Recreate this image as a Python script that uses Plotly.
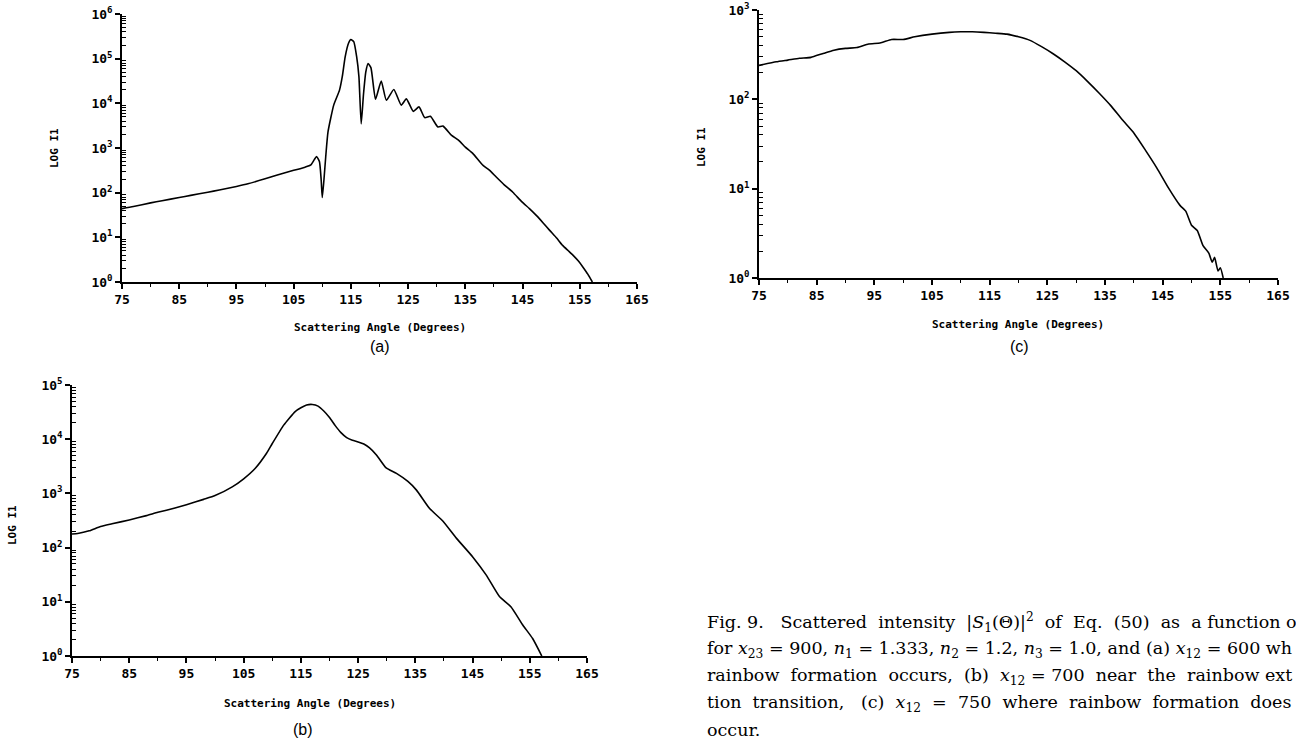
import plotly.graph_objects as go

# ---------------- data ----------------
angle_a = [75, 77, 80, 82, 85, 87, 90, 92, 95, 97, 100, 102, 105, 107, 108, 108.6, 109, 109.5,
           109.8, 110, 110.3, 110.6, 111, 112, 113, 113.5, 114, 114.6, 115, 115.5, 116, 116.4,
           116.8, 117.2, 117.6, 118, 118.5, 119.3, 120.3, 121.2, 122.5, 123.8, 124.7, 125.9,
           126.9, 127.9, 128.9, 130.2, 131.1, 132.6, 133.8, 135, 136.3, 138.1, 139.2, 140.4,
           141.8, 143.3, 144.9, 146.2, 147.4, 148.6, 149.7, 151, 152, 153, 153.8, 154.8, 155.5,
           156.4, 157.2]
intensity_a = [44, 49, 59, 66, 78, 87, 102, 115, 138, 158, 204, 245, 316, 372, 417, 550, 646, 500,
               200, 78, 200, 630, 2290, 9120, 19500, 40000, 110000, 224000, 269000, 240000, 112000, 40000,
               3470, 15800, 50000, 77600, 63000, 12300, 31600, 11700, 20400, 9120, 12600, 6610,
               8320, 4790, 5130, 2950, 3090, 1910, 1500, 1050, 760, 407, 320, 224,
               150, 102, 62, 44, 31, 21, 14.5, 9.5, 6.6, 5.0, 4.0, 2.9, 2.2,
               1.5, 1.0]

angle_b = [75, 76, 78, 80, 82, 85, 88, 90, 93, 95, 98, 100, 103, 105, 107, 109, 110, 112, 114,
           115, 116, 117, 118, 119, 120, 121, 122, 123, 124, 125, 126, 127, 128.2, 129.9, 131.7,
           133.7, 135.2, 137.5, 139.8, 142.2, 145.1, 147.4, 149.7, 151.7, 153.8, 155.5, 157.1]
intensity_b = [178, 182, 204, 245, 275, 324, 389, 447, 537, 617, 776, 912, 1320, 1860, 2880, 5500,
               8320, 18200, 32400, 38000, 42700, 43700, 40700, 33100, 25100, 17800, 13200, 10700,
               9550, 8900, 8130, 6920, 5130, 2950, 2340, 1660, 1150, 525, 310, 148, 66, 31, 12.5,
               8.1, 3.7, 2.1, 1.0]

angle_c = [75, 78, 80, 82, 84, 86, 88, 90, 92, 94, 96, 98, 100, 102, 105, 108, 110, 112, 114,
           116, 118, 120, 122, 124, 126, 128, 130, 132, 134, 136, 138, 140, 142, 144, 146, 148,
           149, 150, 151, 152, 153, 153.6, 154, 154.6, 155, 155.5]
intensity_c = [240, 263, 275, 288, 295, 324, 355, 372, 380, 417, 427, 468, 468, 501, 537, 562,
               570, 570, 562, 550, 537, 501, 457, 389, 324, 263, 209, 158, 117, 85, 59, 42, 27,
               17, 10.2, 6.5, 5.6, 3.9, 3.4, 2.3, 1.9, 1.5, 1.7, 1.2, 1.3, 1.0]

x_tick_vals = [75, 85, 95, 105, 115, 125, 135, 145, 155, 165]
x_tick_text = ["75", "85", "95", "105", "115", "125", "135", "145", "155", "165"]
x_minor_vals = [80, 90, 100, 110, 120, 130, 140, 150, 160]

x_title = "Scattering Angle (Degrees)"
y_title = "LOG I1"
panel_labels = ["(a)", "(b)", "(c)"]

S = " \u00a0"   # a widened (justified) word gap
S2 = " \u00a0\u00a0"
caption_lines = [
    "Fig. 9.   Scattered" + S + "intensity" + S + "|<i>S</i><sub>1</sub>(Θ)|<sup>2</sup>" + S + "of" + S
    + "Eq." + S + "(50)" + S + "as" + S + "a function o",
    "for <i>x</i><sub>23</sub> = 900, <i>n</i><sub>1</sub> = 1.333, <i>n</i><sub>2</sub> = 1.2, "
    "<i>n</i><sub>3</sub> = 1.0, and (a) <i>x</i><sub>12</sub> = 600 wh",
    "rainbow" + S + "formation" + S + "occurs," + S + "(b)" + S + "<i>x</i><sub>12</sub> = 700" + S
    + "near" + S + "the" + S + "rainbow ext",
    "tion" + S + "transition," + S2 + "(c)" + S + "<i>x</i><sub>12</sub>" + S + "=" + S
    + "750" + S + "where" + S + "rainbow" + S + "formation" + S + "does",
    "occur.",
]

# ---------------- figure ----------------
W, H = 1296, 742
TICKFONT = dict(family="DejaVu Sans Mono", size=13, color="black", weight="bold")
TITLEFONT = dict(family="DejaVu Sans Mono", size=11, color="black", weight="bold")


def px_x(v):
    return v / W


def px_y(v):
    return 1 - v / H


def make_xaxis(x0, x1, anchor):
    return dict(domain=[px_x(x0), px_x(x1)], anchor=anchor, range=[75, 165], automargin=False,
                tickmode="array", tickvals=x_tick_vals, ticktext=x_tick_text,
                ticks="outside", ticklen=5, tickwidth=1.5, tickcolor="black",
                showline=True, linecolor="black", linewidth=1.6,
                showgrid=False, zeroline=False, tickfont=TICKFONT,
                minor=dict(tickmode="array", tickvals=x_minor_vals, ticks="outside",
                           ticklen=3, tickwidth=1.2, tickcolor="black", showgrid=False))


def make_yaxis(y_top, y_bot, anchor, ndec):
    major = [10 ** k for k in range(ndec + 1)]
    minor = [m * 10 ** k for k in range(ndec) for m in range(2, 10)]
    return dict(domain=[px_y(y_bot), px_y(y_top)], anchor=anchor, type="log", automargin=False,
                range=[0, ndec], tickmode="array", tickvals=major,
                ticktext=[f"10<sup>{k}</sup>" for k in range(ndec + 1)],
                ticks="outside", ticklen=5, tickwidth=1.5, tickcolor="black",
                showline=True, linecolor="black", linewidth=1.6,
                showgrid=False, zeroline=False, tickfont=TICKFONT,
                minor=dict(tickmode="array", tickvals=minor, ticks="inside",
                           ticklen=4, tickwidth=1.2, tickcolor="black", showgrid=False))


fig = go.Figure()
line = dict(color="black", width=1.6, shape="spline", smoothing=0.5)
fig.add_trace(go.Scatter(x=angle_a, y=intensity_a, mode="lines", line=line, xaxis="x", yaxis="y"))
fig.add_trace(go.Scatter(x=angle_b, y=intensity_b, mode="lines", line=line, xaxis="x2", yaxis="y2"))
fig.add_trace(go.Scatter(x=angle_c, y=intensity_c, mode="lines", line=line, xaxis="x3", yaxis="y3"))

fig.update_layout(
    width=W, height=H, margin=dict(l=0, r=0, t=0, b=0, autoexpand=False),
    paper_bgcolor="white", plot_bgcolor="white", showlegend=False,
    xaxis=make_xaxis(122, 637, "y"), yaxis=make_yaxis(14, 282, "x", 6),
    xaxis2=make_xaxis(72, 587, "y2"), yaxis2=make_yaxis(385, 656, "x2", 5),
    xaxis3=make_xaxis(759, 1278, "y3"), yaxis3=make_yaxis(10, 278, "x3", 3),
)

ann = []
# axis titles
for (xc, yc) in [(380, 328), (310, 703), (1018, 325)]:
    ann.append(dict(text=x_title, x=px_x(xc), y=px_y(yc), xref="paper", yref="paper",
                    showarrow=False, font=TITLEFONT, xanchor="center", yanchor="middle"))
for (xc, yc) in [(54, 148), (12, 525), (701, 147)]:
    ann.append(dict(text=y_title, x=px_x(xc), y=px_y(yc), xref="paper", yref="paper",
                    showarrow=False, font=TITLEFONT, textangle=-90,
                    xanchor="center", yanchor="middle"))
# panel labels
for lab, (xc, yc) in zip(panel_labels, [(380, 346), (303, 729), (1019, 346)]):
    ann.append(dict(text=lab, x=px_x(xc), y=px_y(yc), xref="paper", yref="paper",
                    showarrow=False, font=dict(family="Liberation Sans", size=16, color="black"),
                    xanchor="center", yanchor="middle"))
# caption
for i, t in enumerate(caption_lines):
    ann.append(dict(text=t, x=px_x(705), y=px_y(622 + i * 27), xref="paper", yref="paper",
                    showarrow=False, font=dict(family="DejaVu Serif", size=17.5, color="black"),
                    xanchor="left", yanchor="middle", align="left"))
fig.update_layout(annotations=ann)

# the page body must not add its default 8px margin around the 1296x742 figure
fig.write_html("out.html", config={"displayModeBar": False},
               post_script="document.body.style.margin='0px';")
